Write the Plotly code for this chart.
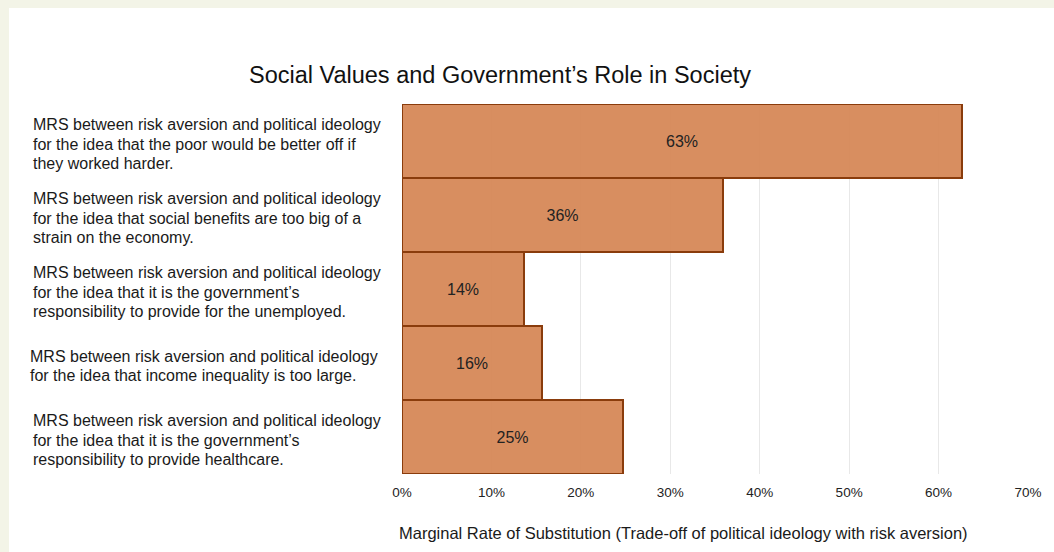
import plotly.graph_objects as go

categories = [
    "MRS between risk aversion and political ideology<br>for the idea that the poor would be better off if<br>they worked harder.",
    "MRS between risk aversion and political ideology<br>for the idea that social benefits are too big of a<br>strain on the economy.",
    "MRS between risk aversion and political ideology<br>for the idea that it is the government’s<br>responsibility to provide for the unemployed.",
    "MRS between risk aversion and political ideology<br>for the idea that income inequality is too large.",
    "MRS between risk aversion and political ideology<br>for the idea that it is the government’s<br>responsibility to provide healthcare.",
]
values = [62.6, 35.9, 13.6, 15.7, 24.7]
bar_labels = ["63%", "36%", "14%", "16%", "25%"]
tick_vals = [0, 10, 20, 30, 40, 50, 60, 70]
tick_text = ["0%", "10%", "20%", "30%", "40%", "50%", "60%", "70%"]

FONT = "Liberation Sans, Arial, sans-serif"
# figure sits at page offset (9, 8) via the body margin
W, H = 1045, 544
L, R, T, B = 393, 23, 96, 78
pw, ph = W - L - R, H - T - B

fig = go.Figure()
fig.add_trace(go.Bar(
    y=categories, x=values, orientation="h",
    text=bar_labels, textposition="inside", insidetextanchor="middle",
    textfont=dict(family=FONT, size=16, color="#222222"),
    marker=dict(color="rgba(214,136,87,0.95)", line=dict(color="#8a3c0c", width=2)),
    hoverinfo="skip",
))

# left-aligned category labels, one annotation per line for tight line spacing
LINE = 19.3
for c in categories:
    lines = c.split("<br>")
    xpx = 17 if "income inequality" in c else 20
    n = len(lines)
    for j, ln in enumerate(lines):
        fig.add_annotation(
            x=(xpx - L) / pw, xref="paper", xanchor="left",
            y=c, yref="y", yanchor="middle",
            yshift=((n - 1) / 2 - j) * LINE - 3,
            text=ln, showarrow=False, align="left",
            font=dict(family=FONT, size=16, color="#1a1a1a"),
        )

# x-axis title
fig.add_annotation(
    x=(676 - L) / pw, xref="paper",
    y=(H - B - 525) / ph, yref="paper",
    text="Marginal Rate of Substitution (Trade-off of political ideology with risk aversion)",
    showarrow=False, xanchor="center", yanchor="middle",
    font=dict(family=FONT, size=16.5, color="#1a1a1a"),
)

fig.update_layout(
    width=W, height=H,
    margin=dict(l=L, r=R, t=T, b=B),
    paper_bgcolor="white",
    plot_bgcolor="white",
    bargap=0,
    showlegend=False,
    title=dict(text="Social Values and Government’s Role in Society",
               x=491 / W, xanchor="center", y=1 - 67 / H, yanchor="middle",
               font=dict(family=FONT, size=23.5, color="#111111")),
    xaxis=dict(range=[0, 70], tickvals=tick_vals, ticktext=tick_text,
               showgrid=True, gridcolor="#e8e8e8", gridwidth=1,
               zeroline=False, showline=False, ticks="",
               ticklabelstandoff=8,
               tickfont=dict(family=FONT, size=13.5, color="#222222")),
    yaxis=dict(autorange="reversed", showticklabels=False, showgrid=False,
               zeroline=False, showline=False, ticks=""),
)

fig.write_html(
    "out.html",
    post_script="document.body.style.background='#f3f4e7';"
                "document.body.style.margin='8px 0 0 9px';"
                "document.body.style.overflow='hidden';",
)
